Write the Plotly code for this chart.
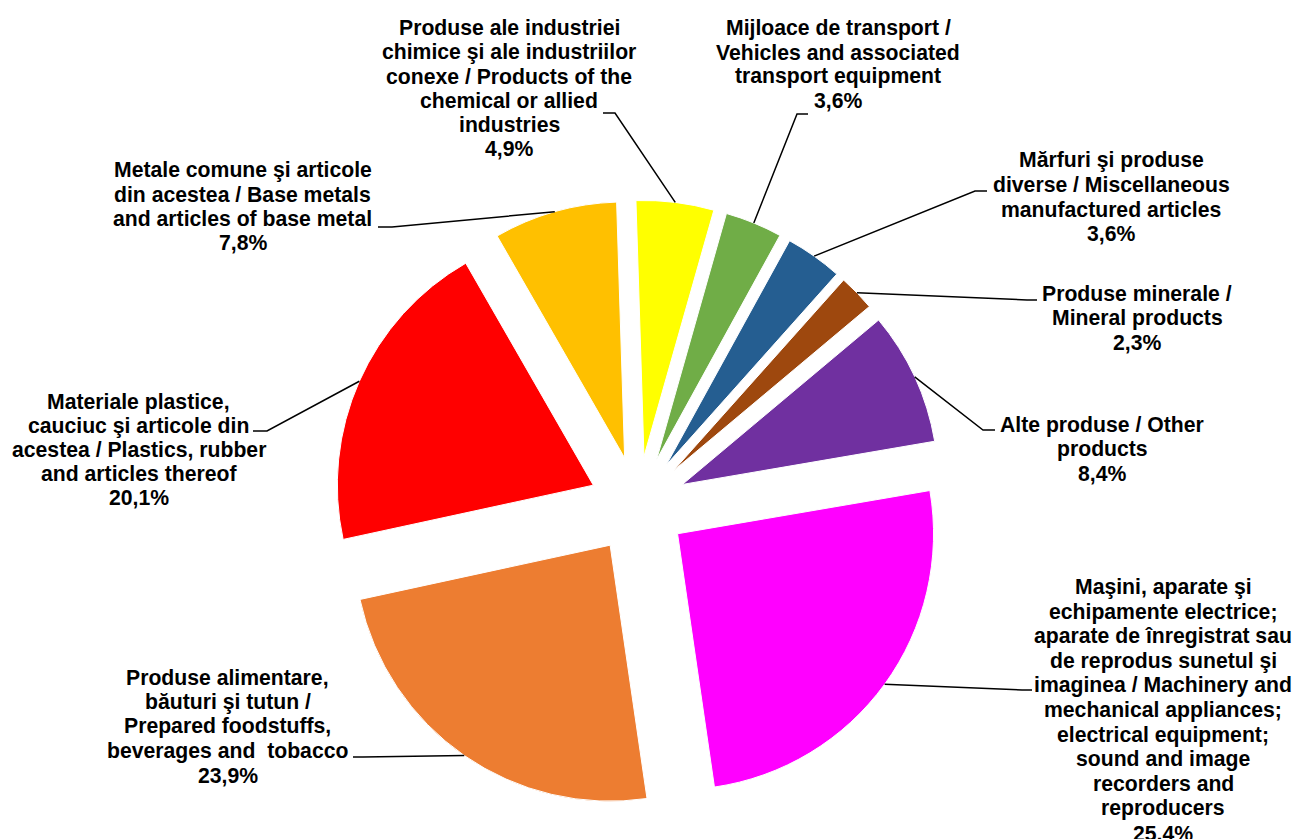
import math
import plotly.graph_objects as go

# ---------------- data ----------------
categories = [
    "Produse ale industriei chimice şi ale industriilor conexe / Products of the chemical or allied industries",
    "Mijloace de transport / Vehicles and associated transport equipment",
    "Mărfuri şi produse diverse / Miscellaneous manufactured articles",
    "Produse minerale / Mineral products",
    "Alte produse / Other products",
    "Maşini, aparate şi echipamente electrice; aparate de înregistrat sau de reprodus sunetul şi imaginea / Machinery and mechanical appliances; electrical equipment; sound and image recorders and reproducers",
    "Produse alimentare, băuturi şi tutun / Prepared foodstuffs, beverages and tobacco",
    "Materiale plastice, cauciuc şi articole din acestea / Plastics, rubber and articles thereof",
    "Metale comune şi articole din acestea / Base metals and articles of base metal",
]
values = [4.9, 3.6, 3.6, 2.3, 8.4, 25.4, 23.9, 20.1, 7.8]
colors = ["#FFFF00", "#70AD47", "#255E91", "#9E480E", "#7030A0",
          "#FF00FF", "#ED7D31", "#FF0000", "#FFC000"]
label_lines = [
    ["Produse ale industriei", "chimice şi ale industriilor", "conexe / Products of the",
     "chemical or allied", "industries"],
    ["Mijloace de transport /", "Vehicles and associated", "transport equipment"],
    ["Mărfuri şi produse", "diverse / Miscellaneous", "manufactured articles"],
    ["Produse minerale /", "Mineral products"],
    ["Alte produse / Other", "products"],
    ["Maşini, aparate şi", "echipamente electrice;", "aparate de înregistrat sau",
     "de reprodus sunetul şi", "imaginea / Machinery and", "mechanical appliances;",
     "electrical equipment;", "sound and image", "recorders and", "reproducers"],
    ["Produse alimentare,", "băuturi şi tutun /", "Prepared foodstuffs,",
     "beverages and  tobacco"],
    ["Materiale plastice,", "cauciuc şi articole din", "acestea / Plastics, rubber",
     "and articles thereof"],
    ["Metale comune şi articole", "din acestea / Base metals",
     "and articles of base metal"],
]

# ---------------- layout (pixels) ----------------
W, H = 1297, 839
CX, CY = 638, 505
R = 256
PULL = 0.191
ROT = -1.8
HALF = R * (1 + PULL)
FONT = dict(family="Liberation Sans, Arial, sans-serif", size=21.2, color="black", weight="bold")

# label block: centre x, first line centre y, line spacing
label_pos = [
    (509, 28, 24.2),
    (838, 28, 24.2),
    (1111, 160, 24.6),
    (1137, 293, 24.5),
    (1102, 425, 24.2),
    (1163, 587, 24.6),
    (227.5, 677, 24.5),
    (138.5, 402, 23.8),
    (242.5, 170, 24.3),
]
# leader line: elbow point and end point (pixels)
leader_pts = [
    ((615, 113), (603, 113)),
    ((797, 114), (808, 114)),
    ((975, 191), (987, 191)),
    ((1027, 300), (1037, 300)),
    ((983, 430), (995, 430)),
    ((1022, 690), (1032, 690)),
    ((363, 757), (353, 757)),
    ((267, 431), (253, 431)),
    ((392, 227), (378, 227)),
]


def px(x):
    return x / W


def py(y):
    return 1 - y / H


fig = go.Figure(go.Pie(
    labels=categories,
    values=values,
    sort=False,
    direction="clockwise",
    rotation=ROT,
    pull=[PULL] * len(values),
    marker=dict(colors=colors, line=dict(color="white", width=1)),
    textinfo="none",
    hovertemplate="%{label}<br>%{value}%<extra></extra>",
    showlegend=False,
    domain=dict(x=[px(CX - HALF), px(CX + HALF)], y=[py(CY + HALF), py(CY - HALF)]),
))

total = sum(values)
annotations = []
shapes = []
cum = 0.0
for i, v in enumerate(values):
    mid = 2 * math.pi * (cum + v / 2) / total + math.radians(ROT)
    cum += v
    ax = CX + HALF * math.sin(mid)
    ay = CY - HALF * math.cos(mid)
    (ex, ey), (tx, ty) = leader_pts[i]
    shapes.append(dict(
        type="path", xref="paper", yref="paper",
        path=f"M {px(ax)} {py(ay)} L {px(ex)} {py(ey)} L {px(tx)} {py(ty)}",
        line=dict(color="black", width=1.5),
    ))
    lines = label_lines[i] + [f"{v:.1f}".replace(".", ",") + "%"]
    cx, y0, sp = label_pos[i]
    for k, t in enumerate(lines):
        annotations.append(dict(
            x=px(cx), y=py(y0 + k * sp), xref="paper", yref="paper",
            text=t, showarrow=False, xanchor="center", yanchor="middle",
            font=FONT,
        ))

fig.update_layout(
    width=W, height=H,
    margin=dict(l=0, r=0, t=0, b=0),
    paper_bgcolor="white", plot_bgcolor="white",
    annotations=annotations, shapes=shapes,
)

fig.write_html(
    "out.html",
    config={"displayModeBar": False},
    post_script="document.body.style.margin='0';document.body.style.overflow='hidden';",
)
